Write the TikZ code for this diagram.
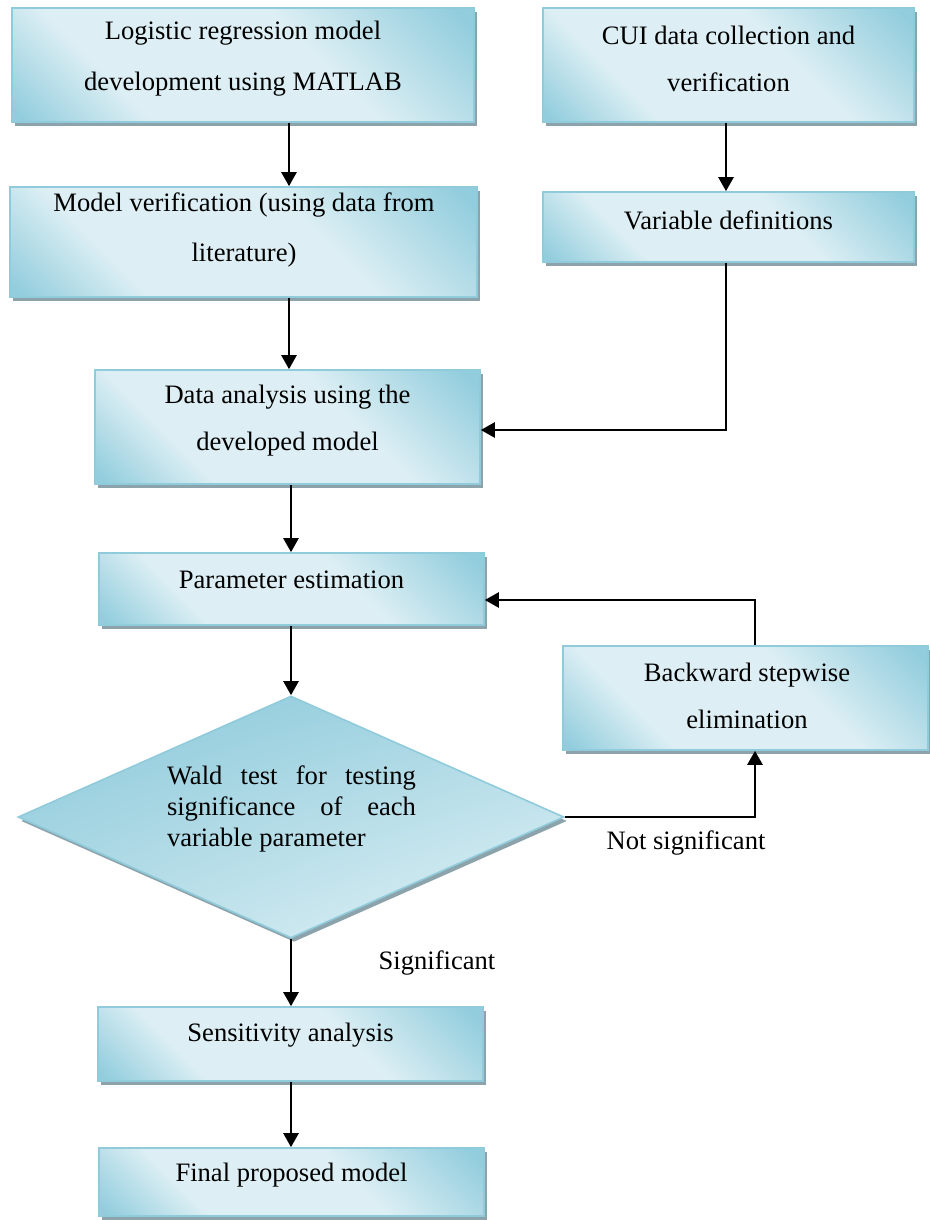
\documentclass[tikz,border=0pt]{standalone}
\usepackage{fontspec}
\setmainfont{Liberation Serif}
\usetikzlibrary{shapes.geometric,shadows,shadings,arrows.meta,calc}
\definecolor{dk}{RGB}{146,205,221}
\definecolor{dkk}{RGB}{138,200,217}
\definecolor{lt}{RGB}{221,239,244}
\definecolor{ltt}{RGB}{228,243,247}
\definecolor{bordc}{RGB}{143,203,219}
\definecolor{shdw}{RGB}{140,163,171}
\pgfdeclarehorizontalshading{boxshade}{100bp}{color(0bp)=(dk); color(16bp)=(dk); color(32bp)=(lt); color(60bp)=(lt); color(83bp)=(dk); color(100bp)=(dk)}
\tikzset{
  box/.style={rectangle, draw=bordc, line width=0.8pt, shade, shading=boxshade, shading angle=45,
    drop shadow={shadow xshift=1.5pt, shadow yshift=-2pt, fill=shdw, opacity=1}, inner sep=0pt},
  dia/.style={diamond, draw=bordc, line width=0.8pt,
    upper left=dkk, upper right=dk!70!lt, lower left=dk!55!lt, lower right=ltt,
    drop shadow={shadow xshift=1.5pt, shadow yshift=-2pt, fill=shdw, opacity=1}, inner sep=0pt},
  txt/.style={font=\fontsize{13.3}{23.5}\selectfont, align=center, inner sep=0pt},
  lbl/.style={font=\fontsize{13.3}{16}\selectfont, inner sep=0pt},
  arr/.style={-{Triangle[width=7.5pt,length=7pt]}, line width=1.2pt},
}
\begin{document}
\begin{tikzpicture}[x=0.5pt,y=-0.5pt]
\useasboundingbox (0,0) rectangle (930,1220);
\coordinate (sp) at (289,0);
\coordinate (vx) at (726,0);
\coordinate (bx) at (755,0);

\node[box, minimum width=231pt, minimum height=57pt] (b1) at (243,65) {};
\node[txt, font=\fontsize{13.3}{25.5}\selectfont] (t1) at (243,58.5) {Logistic regression model\\development using MATLAB};

\node[box, minimum width=185.5pt, minimum height=57pt] (cui) at (728.5,65) {};
\node[txt] (t2) at (728.5,58.5) {CUI data collection and\\verification};

\node[box, minimum width=233.5pt, minimum height=55pt] (mv) at (243.5,242) {};
\node[txt, font=\fontsize{13.3}{25}\selectfont] (t3) at (244,230) {Model verification (using data from\\literature)};

\node[box, minimum width=185.5pt, minimum height=35pt] (vd) at (728.5,227) {};
\node[txt] (t4) at (728.5,220) {Variable definitions};

\node[box, minimum width=192.5pt, minimum height=57pt] (da) at (287.5,427) {};
\node[txt] (t5) at (287.5,421) {Data analysis using the\\developed model};

\node[box, minimum width=192.5pt, minimum height=36pt] (pe) at (291.5,589) {};
\node[txt] (t6) at (291.5,580) {Parameter estimation};

\node[box, minimum width=182.5pt, minimum height=52pt] (bw) at (745.5,698) {};
\node[txt] (t7) at (747,696) {Backward stepwise\\elimination};

\node[dia, minimum width=273pt, minimum height=121pt] (wald) at (291,817) {};
\node[font=\fontsize{13.3}{15.5}\selectfont, text width=124.5pt, align=justify, inner sep=0pt] (t8) at (291.5,809)
  {Wald test for testing\linebreak significance of each\linebreak variable parameter};

\node[box, minimum width=192.5pt, minimum height=37pt] (sens) at (290.5,1044) {};
\node[txt] (t9) at (290.5,1035) {Sensitivity analysis};

\node[box, minimum width=192.5pt, minimum height=34pt] (fin) at (291.5,1182) {};
\node[txt] (t10) at (291.5,1175) {Final proposed model};

\node[lbl] (ns) at (686,843) {Not significant};
\node[lbl] (sg) at (437,963) {Significant};

\draw[arr] (b1.south -| sp) -- (mv.north -| sp);
\draw[arr] (mv.south -| sp) -- (da.north -| sp);
\draw[arr] (cui.south -| vx) -- (vd.north -| vx);
\draw[arr] (vd.south -| vx) |- ([yshift=-1.5pt]da.east);
\draw[arr] (da.south -| wald) -- (pe.north -| wald);
\draw[arr] (pe.south -| wald) -- (wald.north);
\draw[arr] (wald.south) -- (sens.north -| wald);
\draw[arr] (sens.south -| wald) -- (fin.north -| wald);
\draw[arr] (wald.east) -| (bw.south -| bx);
\draw[arr] (bw.north -| bx) |- ([yshift=-5.5pt]pe.east);
\end{tikzpicture}
\end{document}
